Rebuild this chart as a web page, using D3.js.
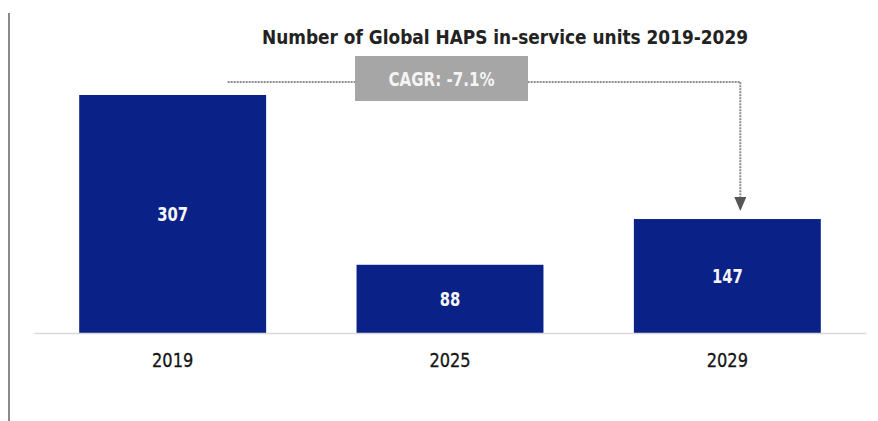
<!DOCTYPE html>
<html>
<head>
<meta charset="utf-8">
<script src="https://cdn.jsdelivr.net/npm/d3@7"></script>
<style>
  html, body { margin: 0; padding: 0; background: #fff; }
  svg { display: block; }
  text { font-family: "DejaVu Sans Condensed", "DejaVu Sans", sans-serif; font-stretch: condensed; }
</style>
</head>
<body>
<svg id="chart" width="878" height="421"></svg>
<script>
// Chart data
const years = ["2019", "2025", "2029"];
const units = [307, 88, 147];
const chartTitle = "Number of Global HAPS in-service units 2019-2029";
const cagrLabel = "CAGR: -7.1%";

const W = 878, H = 421;
const svg = d3.select("#chart");

const x = d3.scaleBand()
  .domain(years)
  .range([34, 866])
  .paddingInner(0.326)
  .paddingOuter(0.163);

const y = d3.scaleLinear()
  .domain([0, 307])
  .range([333, 95]);

// Narrow text helper: digits/letters about 10.3px wide each
const narrow = s => String(s).length * 10.3;

// Frame line on the left
svg.append("line")
  .attr("x1", 9).attr("x2", 9)
  .attr("y1", 13).attr("y2", H)
  .attr("stroke", "#8a8a8a").attr("stroke-width", 2);

// Title
svg.append("text")
  .attr("x", 505).attr("y", 44)
  .attr("text-anchor", "middle")
  .attr("font-size", 19.5)
  .attr("font-weight", "bold")
  .attr("fill", "#222222")
  .attr("textLength", 486)
  .attr("lengthAdjust", "spacingAndGlyphs")
  .text(chartTitle);

// Bars
svg.append("g").selectAll("rect")
  .data(units)
  .join("rect")
  .attr("x", (d, i) => x(years[i]))
  .attr("width", x.bandwidth())
  .attr("y", d => y(d))
  .attr("height", d => y(0) - y(d))
  .attr("fill", "#0a2287");

// Value labels in the middle of each bar
svg.append("g").selectAll("text")
  .data(units)
  .join("text")
  .attr("x", (d, i) => x(years[i]) + x.bandwidth() / 2)
  .attr("y", d => (y(d) + y(0)) / 2)
  .attr("dy", "0.36em")
  .attr("text-anchor", "middle")
  .attr("font-size", 20)
  .attr("font-weight", "bold")
  .attr("fill", "#f6f6f6")
  .attr("textLength", d => narrow(d))
  .attr("lengthAdjust", "spacingAndGlyphs")
  .text(d => d);

// Category axis
const axis = svg.append("g")
  .attr("transform", `translate(0,${y(0)})`)
  .call(d3.axisBottom(x).tickSize(0).tickPadding(20));
axis.select(".domain").attr("stroke", "#d9d9d9").attr("stroke-width", 1.5);
axis.selectAll(".tick text")
  .attr("font-family", "\"DejaVu Sans Condensed\", \"DejaVu Sans\", sans-serif")
  .style("font-stretch", "condensed")
  .attr("font-size", 20)
  .attr("fill", "#151515")
  .attr("stroke", "#151515")
  .attr("stroke-width", 0.3)
  .attr("textLength", d => narrow(d))
  .attr("lengthAdjust", "spacingAndGlyphs");

// CAGR connector: dashed line from first bar's level to the last bar, with arrow
const firstX = x(years[0]) + x.bandwidth() / 2;
const lastX = x(years[years.length - 1]) + x.bandwidth() / 2 + 13;
const lineY = 82;
const arrowTip = y(units[units.length - 1]) - 8;

svg.append("path")
  .attr("d", `M${firstX + 55},${lineY} H${lastX} V${arrowTip - 12}`)
  .attr("fill", "none")
  .attr("stroke", "#8c8c8c")
  .attr("stroke-width", 2)
  .attr("stroke-dasharray", "2,1");

svg.append("path")
  .attr("d", `M${lastX - 6},${arrowTip - 14} L${lastX + 6},${arrowTip - 14} L${lastX},${arrowTip} Z`)
  .attr("fill", "#555555");

// CAGR badge
const boxX = 355, boxW = 173, boxY = 56, boxH = 45;
svg.append("rect")
  .attr("x", boxX).attr("y", boxY)
  .attr("width", boxW).attr("height", boxH)
  .attr("fill", "#a6a6a6");
svg.append("text")
  .attr("x", boxX + boxW / 2).attr("y", boxY + 23)
  .attr("dy", "0.36em")
  .attr("text-anchor", "middle")
  .attr("font-size", 19)
  .attr("font-weight", "bold")
  .attr("fill", "#f4f4f4")
  .attr("textLength", 106)
  .attr("lengthAdjust", "spacingAndGlyphs")
  .text(cagrLabel);
</script>
</body>
</html>
